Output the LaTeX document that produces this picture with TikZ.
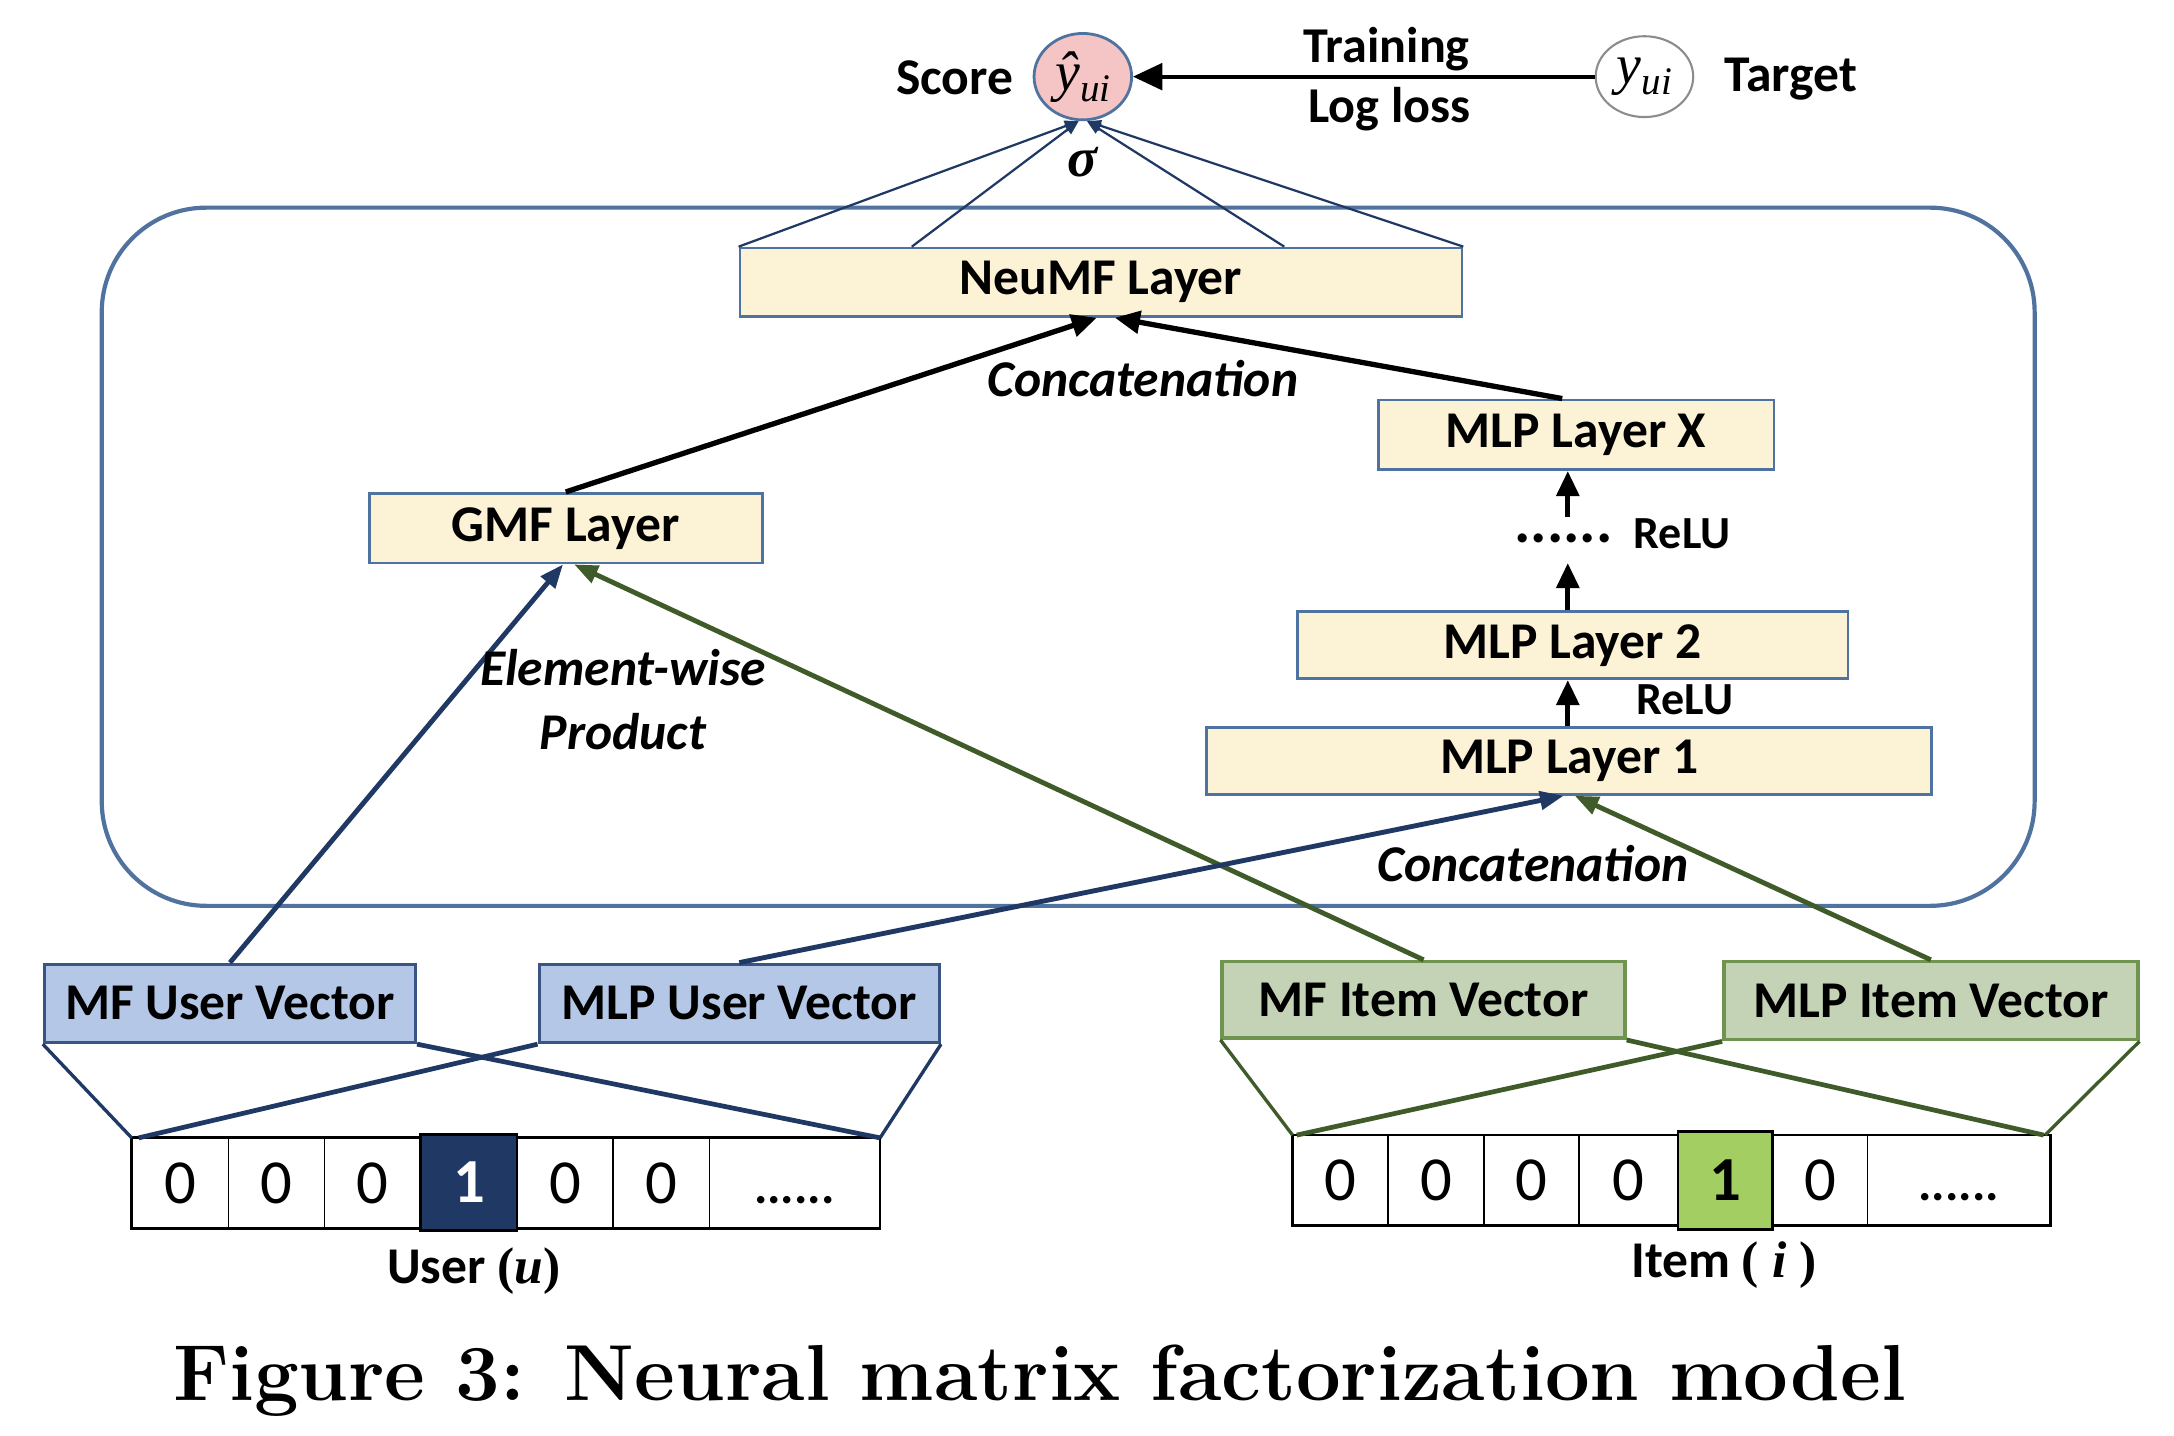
\RequirePackage{fix-cm}
\documentclass[tikz,border=0pt]{standalone}
\usepackage{fontspec}
\usetikzlibrary{arrows.meta,calc,shapes.geometric}
\newfontfamily\calib{Carlito}
\newfontfamily\libs{Liberation Serif}
\definecolor{cream}{HTML}{FCF2D6}
\definecolor{layerb}{HTML}{4F73A0}
\definecolor{frameb}{HTML}{50729E}
\definecolor{lblue}{HTML}{B4C7E7}
\definecolor{ublue}{HTML}{3A5584}
\definecolor{navy}{HTML}{1F3864}
\definecolor{lgreen}{HTML}{C4D3B6}
\definecolor{gborder}{HTML}{6F9450}
\definecolor{oline}{HTML}{3F5B2A}
\definecolor{brightg}{HTML}{A3CF62}
\definecolor{pinkf}{HTML}{F5C4C4}
\definecolor{greyb}{HTML}{8C8C8C}
\begin{document}
\begin{tikzpicture}[x=1pt,y=-1pt,
  bigf/.style={font=\calib\bfseries\fontsize{37}{44}\selectfont},
  txt/.style={bigf, inner sep=0pt},
  itxt/.style={font=\calib\bfseries\itshape\fontsize{37}{46}\selectfont, inner sep=0pt, align=center},
  layer/.style={bigf, draw=layerb, line width=2pt, fill=cream, inner sep=0pt},
  uvec/.style={bigf, draw=ublue, line width=2.5pt, fill=lblue, inner sep=0pt},
  ivec/.style={bigf, draw=gborder, line width=2.5pt, fill=lgreen, inner sep=0pt},
  cellbox/.style={draw=black, line width=1pt, fill=white, inner sep=0pt, font=\calib\fontsize{45}{50}\selectfont, text height=29pt, text depth=0pt, minimum height=64pt},
  dotsf/.style={font=\calib\bfseries\fontsize{36}{40}\selectfont},
  blackarrow/.style={line width=3.8pt, -{Triangle[length=18pt,width=16pt]}},
  navyarrow/.style={draw=navy, line width=3.5pt, -{Triangle[length=17pt,width=13pt]}},
  greenarrow/.style={draw=oline, line width=3.5pt, -{Triangle[length=17pt,width=13pt]}},
  thinarrow/.style={draw=navy, line width=1.6pt, -{Triangle[length=10pt,width=8pt]}},
  ufan/.style={draw=navy, line width=3.4pt},
  ufanout/.style={draw=navy, line width=2.4pt},
  ifan/.style={draw=oline, line width=3.4pt},
  ifanout/.style={draw=oline, line width=2.4pt},
  mathf/.style={font=\libs\itshape\fontsize{40}{40}\selectfont},
]
\useasboundingbox (0,0) rectangle (1560,1030.4);
\fill[white] (0,0) rectangle (1560,1030.4);

% frame
\node[draw=frameb, line width=3pt, rounded corners=75pt, minimum width=1387pt, minimum height=501pt, inner sep=0pt] (frame) at (766.5,399.5) {};

% layers
\node[layer, minimum width=518pt, minimum height=49pt] (neumf) at (790,202.5) {NeuMF Layer};
\node[layer, minimum width=282pt, minimum height=50pt] (gmf) at (406,379) {GMF Layer};
\node[layer, minimum width=284pt, minimum height=50pt] (mlpx) at (1131,312) {MLP Layer X};
\node[layer, minimum width=395pt, minimum height=48pt] (mlp2) at (1128.5,463) {MLP Layer 2};
\node[layer, minimum width=520pt, minimum height=48pt] (mlp1) at (1126,546) {MLP Layer 1};

% vectors
\node[uvec, minimum width=266pt, minimum height=56pt] (mfu) at (165,720) {MF User Vector};
\node[uvec, minimum width=287pt, minimum height=56pt] (mlpu) at (530.5,720) {MLP User Vector};
\node[ivec, minimum width=289pt, minimum height=55pt] (mfi) at (1021.5,717.5) {MF Item Vector};
\node[ivec, minimum width=297pt, minimum height=56pt] (mlpi) at (1385.5,718) {MLP Item Vector};

% score and target
\node[ellipse, draw=layerb, line width=2pt, fill=pinkf, minimum width=70pt, minimum height=62pt, inner sep=0pt, mathf] (yhat) at (777,55) {ŷ\raisebox{-8pt}{\fontsize{28}{28}\selectfont ui}};
\node[ellipse, draw=greyb, line width=1.5pt, fill=white, minimum width=70pt, minimum height=58pt, inner sep=0pt, mathf] (ytgt) at (1180,55) {y\raisebox{-8pt}{\fontsize{28}{28}\selectfont ui}};

% user one-hot
\node[cellbox, minimum width=69pt] (u1) at (129.5,849) {0};
\node[cellbox, minimum width=69pt] (u2) at (198.5,849) {0};
\node[cellbox, minimum width=69pt] (u3) at (267.5,849) {0};
\node[cellbox, minimum width=69pt] (u5) at (405.5,849) {0};
\node[cellbox, minimum width=69pt] (u6) at (474.5,849) {0};
\node[cellbox, dotsf, minimum width=122pt] (u7) at (570,849) {......};
\draw[line width=2pt] (u1.north west) rectangle (u7.south east);
\node[cellbox, fill=navy, text=white, font=\calib\bfseries\fontsize{45}{50}\selectfont, line width=2pt, minimum width=69pt, minimum height=69pt] (u4) at (336.5,848.5) {1};

% item one-hot
\node[cellbox, minimum width=68pt] (i1) at (962,847) {0};
\node[cellbox, minimum width=69pt] (i2) at (1030.5,847) {0};
\node[cellbox, minimum width=68pt] (i3) at (1099,847) {0};
\node[cellbox, minimum width=71pt] (i4) at (1168.5,847) {0};
\node[cellbox, minimum width=68pt] (i6) at (1306,847) {0};
\node[cellbox, dotsf, minimum width=131pt] (i7) at (1405.5,847) {......};
\draw[line width=2pt] (i1.north west) rectangle (i7.south east);
\node[cellbox, fill=brightg, font=\calib\bfseries\fontsize{45}{50}\selectfont, line width=2pt, minimum width=68pt, minimum height=70pt] (i5) at (1238,847) {1};

% fans
\draw[ufanout] (mfu.south west) -- (u1.north west);
\draw[ufan] (mfu.south east) -- (u7.north east);
\draw[ufan] (mlpu.south west) -- ([xshift=5pt]u1.north west);
\draw[ufanout] (mlpu.south east) -- (u7.north east);
\draw[ifanout] (mfi.south west) -- (i1.north west);
\draw[ifan] (mfi.south east) -- ([xshift=-5pt]i7.north east);
\draw[ifan] (mlpi.south west) -- ([xshift=3pt]i1.north west);
\draw[ifanout] (mlpi.south east) -- ([xshift=-4pt]i7.north east);

% vector arrows
\draw[navyarrow] (mfu.north) -- ([xshift=-2pt]gmf.south);
\draw[greenarrow] (mfi.north) -- ([xshift=6pt]gmf.south);
\draw[navyarrow] (mlpu.north) -- ([xshift=-4pt]mlp1.south);
\draw[greenarrow] (mlpi.north) -- ([xshift=4pt]mlp1.south);

% black arrows
\draw[blackarrow] (gmf.north) -- ([xshift=-3pt]neumf.south);
\draw[blackarrow] ([xshift=-10pt]mlpx.north) -- ([xshift=10pt]neumf.south);
\coordinate (d1) at (1125,404);
\coordinate (d2) at (1125,371);
\draw[blackarrow] (mlp1.north -| d1) -- (mlp2.south -| d1);
\draw[blackarrow] (mlp2.north -| d1) -- (d1);
\draw[blackarrow] (d2) -- (mlpx.south -| d2);

% to score
\draw[thinarrow] (neumf.north west) -- ([xshift=-3pt]yhat.south);
\draw[thinarrow] ($(neumf.north west)!0.239!(neumf.north east)$) -- ([xshift=-3pt]yhat.south);
\draw[thinarrow] ($(neumf.north west)!0.753!(neumf.north east)$) -- ([xshift=3pt]yhat.south);
\draw[thinarrow] (neumf.north east) -- ([xshift=3pt]yhat.south);
\draw[line width=2.8pt, -{Triangle[length=21pt,width=19pt]}] (ytgt.west) -- (yhat.east);

% labels
\node[txt] (score) at (685,56) {Score};
\node[txt] (target) at (1285,57) {Target};
\node[txt, font=\calib\bfseries\fontsize{36}{40}\selectfont] (train) at (995,35) {Training};
\node[txt, font=\calib\bfseries\fontsize{36}{40}\selectfont] (logloss) at (997,78) {Log loss};
\node[inner sep=0pt, font=\libs\bfseries\itshape\fontsize{40}{40}\selectfont] (sigma) at (777,116) {σ};
\node[itxt] (cc1) at (820,272) {Concatenation};
\node[itxt] (cc2) at (1100,620) {Concatenation};
\node[itxt] (ewp) at (447,502) {Element-wise\\Product};
\node[inner sep=0pt, font=\calib\bfseries\fontsize{44}{44}\selectfont] (dots) at (1122,386) {......};
\node[inner sep=0pt, font=\calib\bfseries\fontsize{33}{36}\selectfont] (relu1) at (1207,383) {ReLU};
\node[inner sep=0pt, font=\calib\bfseries\fontsize{33}{36}\selectfont] (relu2) at (1209,502) {ReLU};
\node[txt] (ulab) at (340,912) {User {\libs(\textit{u})}};
\node[txt] (ilab) at (1237,908) {Item {\libs( \textit{i} )}};
\node[font=\rmfamily\bfseries\fontsize{57}{62}\selectfont, inner sep=0pt, anchor=base] (cap) at (746,1004.6) {Figure 3: Neural matrix factorization model};
\end{tikzpicture}
\end{document}
